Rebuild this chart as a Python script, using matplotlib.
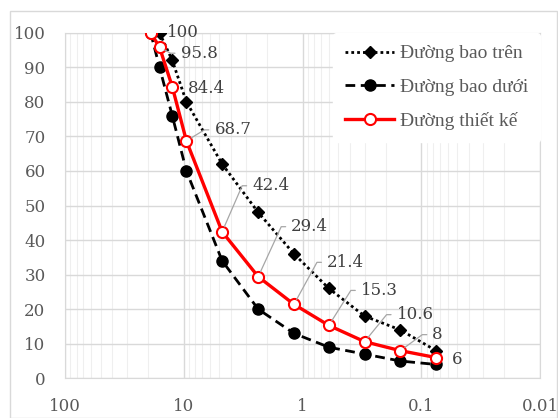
import math
import matplotlib
matplotlib.use("Agg")
import matplotlib.pyplot as plt
from matplotlib.patches import Rectangle
from matplotlib.ticker import LogLocator, FixedLocator, NullFormatter

# ---- data ----
sieve_design = [19, 16, 12.5, 9.5, 4.75, 2.36, 1.18, 0.6, 0.3, 0.15, 0.075]
design = [100, 95.8, 84.4, 68.7, 42.4, 29.4, 21.4, 15.3, 10.6, 8, 6]

sieve_upper = [16, 12.5, 9.5, 4.75, 2.36, 1.18, 0.6, 0.3, 0.15, 0.075]
upper = [100, 92, 80, 62, 48, 36, 26, 18, 14, 8]

sieve_lower = [19, 16, 12.5, 9.5, 4.75, 2.36, 1.18, 0.6, 0.3, 0.15, 0.075]
lower = [100, 90, 76, 60, 34, 20, 13, 9, 7, 5, 4]

labels = ["Đường bao trên", "Đường bao dưới", "Đường thiết kế"]
xtick_vals = [100, 10, 1, 0.1, 0.01]
xtick_labels = ["100", "10", "1", "0.1", "0.01"]

# label offsets in pixels (label left-center relative to point)
label_offsets = [(16, 0), (21, -6), (16, -1.5), (28, 11), (30, 46), (33, 50),
                 (33, 42), (32, 35), (32, 27), (32, 16), (16, -2)]
leader = [False, True, False, True, True, True, True, True, True, True, False]

plt.rcParams["font.family"] = ["DejaVu Serif"]
GRAY_TXT = "#595959"
FS = 12
LEG_FONT = ["Liberation Serif", "DejaVu Serif"]

fig = plt.figure(figsize=(5.58, 4.18), dpi=100)
ax = fig.add_axes([65/558, 1-378.3/418, (540-65)/558, (378.3-32.7)/418])

ax.set_xscale("log")
ax.set_xlim(100, 0.01)
ax.set_ylim(0, 100)

ax.xaxis.set_major_locator(FixedLocator(xtick_vals))
ax.set_xticks(xtick_vals)
ax.set_xticklabels(xtick_labels)
ax.xaxis.set_minor_locator(LogLocator(base=10, subs=range(2, 10)))
ax.xaxis.set_minor_formatter(NullFormatter())
ax.set_yticks(range(0, 101, 10))

ax.grid(which="major", color="#d9d9d9", lw=1.0)
ax.grid(which="minor", axis="x", color="#efefef", lw=0.8)
ax.set_axisbelow(True)
for s in ax.spines.values():
    s.set_color("#d9d9d9")
ax.tick_params(which="both", length=0, colors=GRAY_TXT, labelsize=FS)
ax.tick_params(axis="y", pad=14)
ax.tick_params(axis="x", pad=14)

l1, = ax.plot(sieve_upper, upper, color="black", lw=2, linestyle=(0, (1, 1.1)),
              marker="D", ms=6, mfc="black", mec="black", zorder=3)
l2, = ax.plot(sieve_lower, lower, color="black", lw=2, linestyle=(0, (3.5, 2)),
              marker="o", ms=8, mfc="black", mec="black", zorder=3)
l3, = ax.plot(sieve_design, design, color="#ff0000", lw=2.4, marker="o", ms=8,
              mfc="white", mec="#ff0000", mew=1.5, zorder=4)

for xv, yv, (dx, dy), ld in zip(sieve_design, design, label_offsets, leader):
    txt = ("%g" % yv)
    if ld:
        ang = math.degrees(math.atan2(dy, dx - 10))
        ax.annotate(txt, xy=(xv, yv), xytext=(dx, dy), textcoords="offset pixels",
                    ha="left", va="center", fontsize=FS, color="#404040",
                    arrowprops=dict(arrowstyle="-", color="#a6a6a6", lw=0.9,
                                    shrinkA=2, shrinkB=4, relpos=(0, 0.5),
                                    connectionstyle=f"angle,angleA=0,angleB={ang},rad=0"),
                    zorder=5)
    else:
        ax.annotate(txt, xy=(xv, yv), xytext=(dx, dy), textcoords="offset pixels",
                    ha="left", va="center", fontsize=FS, color="#404040", zorder=5)

leg = ax.legend([l1, l2, l3], labels, loc="upper right", bbox_to_anchor=(1.0, 1.0),
                frameon=True, prop={"family": LEG_FONT, "size": 14},
                handlelength=2.5, numpoints=1,
                labelspacing=0.82, borderpad=0.62, handletextpad=0.3,
                borderaxespad=0.0)
leg.get_frame().set_facecolor("white")
leg.get_frame().set_edgecolor("white")
leg.get_frame().set_alpha(1.0)
for t in leg.get_texts():
    t.set_color(GRAY_TXT)

fig.patches.append(Rectangle((10/558, 0), 547/558, 1-11/418, transform=fig.transFigure,
                             fill=False, edgecolor="#d9d9d9", lw=1))

fig.savefig("out.png", dpi=100)
